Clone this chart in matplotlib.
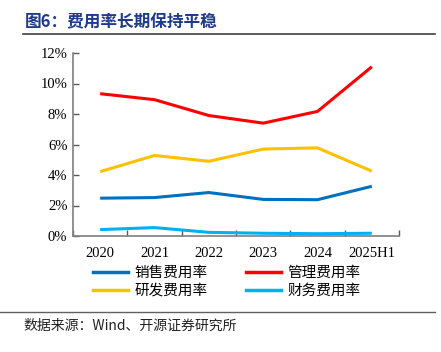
import matplotlib
matplotlib.use("Agg")
import matplotlib.pyplot as plt
from matplotlib.lines import Line2D
import numpy as np

categories = ["2020", "2021", "2022", "2023", "2024", "2025H1"]
sales = [2.48, 2.52, 2.85, 2.40, 2.38, 3.26]
admin = [9.33, 8.94, 7.90, 7.40, 8.17, 11.10]
rnd = [4.22, 5.28, 4.90, 5.70, 5.78, 4.25]
finance = [0.42, 0.55, 0.24, 0.18, 0.15, 0.18]
series_names = ["销售费用率", "管理费用率", "研发费用率", "财务费用率"]
yticks = [0, 2, 4, 6, 8, 10, 12]

colors = ["#0070C0", "#FF0000", "#FFC000", "#00B0F0"]
cjk = ["Noto Sans CJK SC", "DejaVu Sans"]
serif = ["Liberation Serif", "DejaVu Serif"]

fig = plt.figure(figsize=(4.41, 3.52), dpi=100)
ax = fig.add_axes([73/441, 1-236/352, (399-73)/441, (236-53)/352])

x = np.arange(len(categories))
for vals, c in zip([sales, admin, rnd, finance], colors):
    ax.plot(x, vals, color=c, lw=2.2, solid_capstyle="butt")

ax.set_xlim(-0.5, len(categories) - 0.5)
ax.set_ylim(0, 12)
ax.set_yticks(yticks)
ax.set_yticklabels([f"{v}%" for v in yticks], family=serif, fontsize=10.5)
ax.set_xticks(x)
ax.set_xticklabels(categories, family=serif, fontsize=10.5)
ax.tick_params(axis="x", length=0, pad=8)
ax.set_xticks(np.arange(-0.5, len(categories), 1), minor=True)
ax.tick_params(axis="x", which="minor", direction="in", length=4, color="#595959", width=1)
ax.tick_params(axis="y", direction="in", length=4, color="#595959", width=1, pad=4)
for s in ["top", "right"]:
    ax.spines[s].set_visible(False)
for s in ["left", "bottom"]:
    ax.spines[s].set_color("#7f7f7f")
    ax.spines[s].set_linewidth(1.2)

# legend: row1 = sales, admin; row2 = rnd, finance (column-major fill)
order = [0, 2, 1, 3]
handles = [Line2D([0], [0], color=colors[i], lw=2.5) for i in order]
labels = [series_names[i] for i in order]
leg = fig.legend(handles, labels, ncol=2, loc="upper left",
                 bbox_to_anchor=(80/441, 1-253/352), frameon=False,
                 prop={"family": cjk, "size": 10.5}, handlelength=2.4,
                 columnspacing=2.6, handletextpad=0.45, labelspacing=0.25)

fig.text(25/441, 1-22/352, "图6：费用率长期保持平稳", family=cjk, fontsize=12,
         fontweight="bold", color="#1F3A8A", va="center", ha="left")
fig.add_artist(Line2D([23/441, 435/441], [1-34/352, 1-34/352], color="#404040", lw=1.2))
fig.add_artist(Line2D([0/441, 435/441], [1-312/352, 1-312/352], color="#606060", lw=1.0))
fig.text(23/441, 1-326/352, "数据来源：Wind、开源证券研究所", family=cjk, fontsize=10,
         color="#222222", va="center", ha="left")

fig.savefig("out.png", dpi=100)
